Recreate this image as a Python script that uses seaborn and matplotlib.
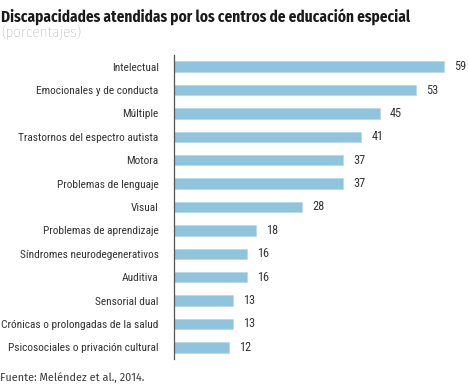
import matplotlib
matplotlib.use("Agg")
import matplotlib.pyplot as plt
import seaborn as sns
import pandas as pd

categorias = [
    "Intelectual", "Emocionales y de conducta", "Múltiple",
    "Trastornos del espectro autista", "Motora", "Problemas de lenguaje",
    "Visual", "Problemas de aprendizaje", "Síndromes neurodegenerativos",
    "Auditiva", "Sensorial dual", "Crónicas o prolongadas de la salud",
    "Psicosociales o privación cultural",
]
porcentajes = [59, 53, 45, 41, 37, 37, 28, 18, 16, 16, 13, 13, 12]

df = pd.DataFrame({"categoria": categorias, "valor": porcentajes})

sns.set_style("white")
plt.rcParams["font.family"] = ["Roboto Condensed", "DejaVu Sans"]

fig = plt.figure(figsize=(4.69, 3.92), dpi=100)
ax = fig.add_axes([0.371, 0.0842, 0.62, 0.7755])

sns.barplot(data=df, x="valor", y="categoria", color="#8fc4df",
            width=0.45, saturation=1, ax=ax, edgecolor="#b5d8ea", linewidth=0.5)

# etiquetas de valor a la derecha de cada barra
for i, v in enumerate(porcentajes):
    ax.text(v + 2.2, i, str(v), va="center", ha="left", fontsize=8.8, color="#333333")

ax.set_xlim(0, 63.6)
ax.set_ylim(12.5, -0.5)
ax.set_xlabel("")
ax.set_ylabel("")
ax.set_xticks([])
ax.set_yticks(range(len(categorias)))
ax.set_yticklabels(categorias, fontsize=8.2, color="#333333")
ax.set_yticks([i - 0.5 for i in range(len(categorias) + 1)], minor=True)
ax.tick_params(axis="y", which="major", length=0, pad=11)
ax.tick_params(axis="y", which="minor", length=4, width=0.9, color="#555555", direction="out")
for s in ["top", "right", "bottom"]:
    ax.spines[s].set_visible(False)
ax.spines["left"].set_color("#555555")
ax.spines["left"].set_linewidth(0.9)

fig.text(0.002, 0.959, "Discapacidades atendidas por los centros de educación especial",
         fontsize=11, fontweight="bold", color="#1a1a1a", ha="left", va="center",
         family=["Fira Sans Condensed", "DejaVu Sans"])
fig.text(0.002, 0.917, "(porcentajes)", fontsize=11, color="#9c9c9c", ha="left", va="center",
         family=["Fira Sans Condensed", "DejaVu Sans"], fontweight="light")
fig.text(0.001, 0.035, "Fuente: Meléndez et al., 2014.", fontsize=7.8, color="#3a3a3a",
         ha="left", va="center", family=["Fira Sans", "DejaVu Sans"])

fig.savefig("out.png", dpi=100)
